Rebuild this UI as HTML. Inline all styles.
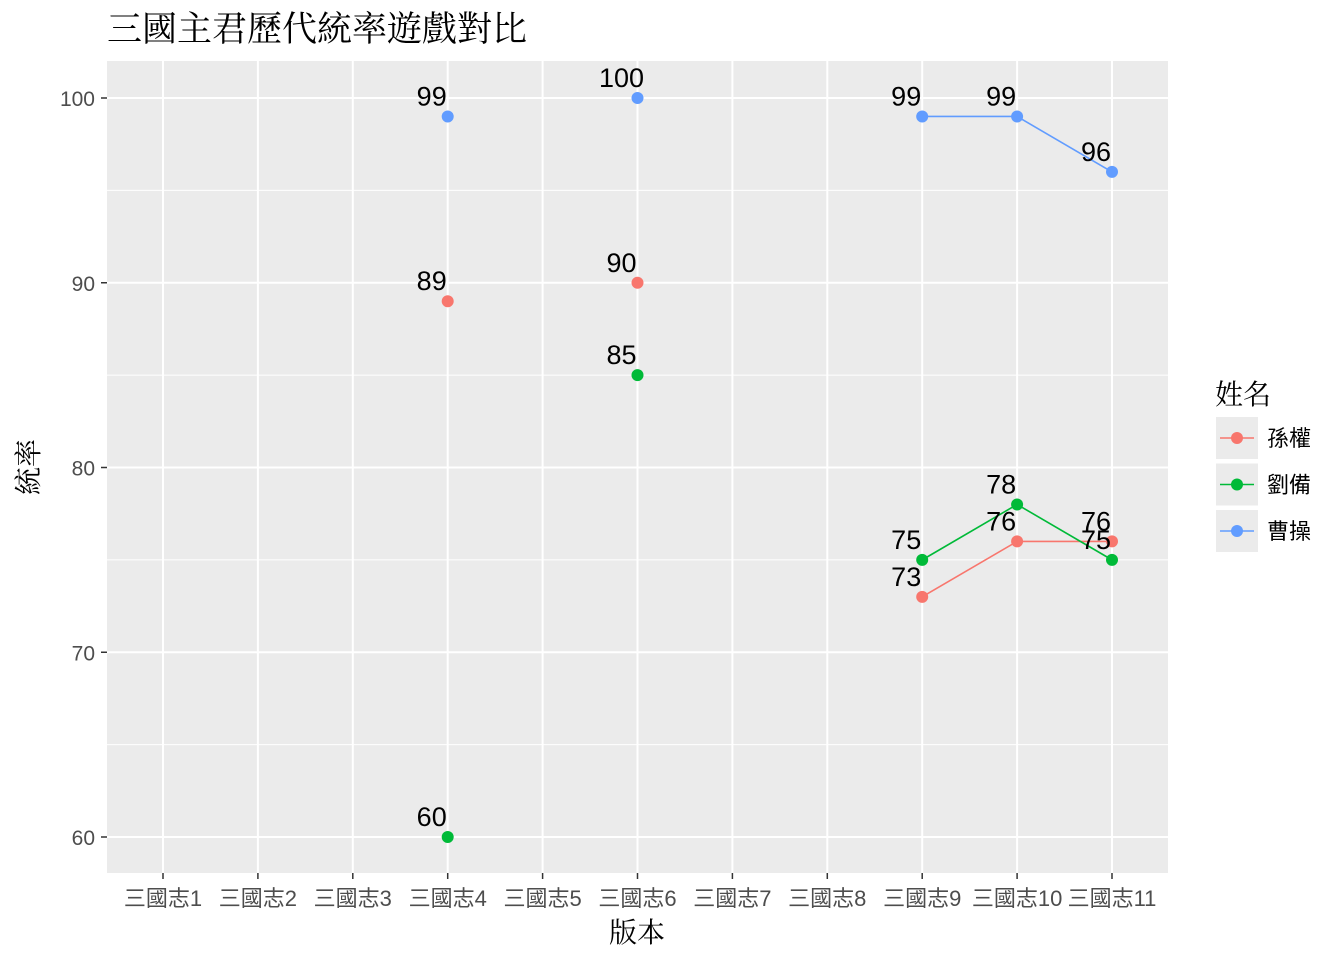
<!DOCTYPE html>
<html><head><meta charset="utf-8">
<style>
html,body{margin:0;padding:0;background:#fff;}
svg text{font-family:"Liberation Sans","Noto Sans CJK TC",sans-serif;}
</style></head>
<body>
<svg id="chart" width="1344" height="960" xmlns="http://www.w3.org/2000/svg">
<rect x="0" y="0" width="1344" height="960" fill="#fff"/>
<text x="107" y="41" font-size="35" fill="#000" style="font-family:'Noto Serif CJK SC',serif">三國主君歷代統率遊戲對比</text>
<rect x="107" y="61" width="1061" height="812" fill="#EBEBEB"/>
<g id="grid"></g>
<g id="axes"></g>
<g id="marks"></g>
<text x="637" y="942" font-size="28" text-anchor="middle" style="font-family:'Noto Serif CJK SC',serif">版本</text>
<text transform="translate(38,467) rotate(-90)" font-size="28" text-anchor="middle" style="font-family:'Noto Serif CJK SC',serif">統率</text>
<g id="legend"></g>
</svg>
<script>
const categories=["三國志1","三國志2","三國志3","三國志4","三國志5","三國志6","三國志7","三國志8","三國志9","三國志10","三國志11"];
const seriesNames=["孫權","劉備","曹操"];
const sunQuan=[null,null,null,89,null,90,null,null,73,76,76];
const liuBei=[null,null,null,60,null,85,null,null,75,78,75];
const caoCao=[null,null,null,99,null,100,null,null,99,99,96];
const yTicks=[60,70,80,90,100];
const colors=["#F8766D","#00BA38","#619CFF"];
const NS="http://www.w3.org/2000/svg";
function xPos(i){return 163+i*94.9;}
function yPos(v){return 837-(v-60)*(837-98)/40;}
function mk(tag,attrs,parent,text){const e=document.createElementNS(NS,tag);for(const k in attrs)e.setAttribute(k,attrs[k]);if(text!==undefined)e.textContent=text;parent.appendChild(e);return e;}
const grid=document.getElementById('grid'),axes=document.getElementById('axes'),marks=document.getElementById('marks'),legend=document.getElementById('legend');
for(let i=0;i<yTicks.length-1;i++){const m=(yTicks[i]+yTicks[i+1])/2;const l=mk('line',{x1:107,x2:1168,y1:yPos(m),y2:yPos(m),stroke:'#fff','stroke-width':1},grid);

}
yTicks.forEach(v=>{const l=mk('line',{x1:107,x2:1168,y1:yPos(v),y2:yPos(v),stroke:'#fff','stroke-width':2},grid);


mk('line',{x1:101,x2:107,y1:yPos(v),y2:yPos(v),stroke:'#333','stroke-width':1.5},axes);
const t=mk('text',{x:95,y:yPos(v)+8,'font-size':21,'text-anchor':'end',fill:'#4D4D4D'},axes,String(v));

});
categories.forEach((c,i)=>{const l=mk('line',{x1:xPos(i),x2:xPos(i),y1:61,y2:873,stroke:'#fff','stroke-width':2},grid);


mk('line',{x1:xPos(i),x2:xPos(i),y1:873,y2:879,stroke:'#333','stroke-width':1.5},axes);
const t=mk('text',{x:xPos(i),y:906,'font-size':22,'text-anchor':'middle',fill:'#4D4D4D'},axes,c);

});
const allSeries=[sunQuan,liuBei,caoCao];
allSeries.forEach((s,si)=>{
 for(let i=0;i<s.length-1;i++){if(s[i]!==null&&s[i+1]!==null){const l=mk('line',{x1:xPos(i),y1:yPos(s[i]),x2:xPos(i+1),y2:yPos(s[i+1]),stroke:colors[si],'stroke-width':1.6},marks);
 
 }}
});
allSeries.forEach((s,si)=>{
 s.forEach((v,i)=>{if(v===null)return;
 const c=mk('circle',{cx:xPos(i),cy:yPos(v),r:6,fill:colors[si]},marks);
 
 });
});
allSeries.forEach((s,si)=>{
 s.forEach((v,i)=>{if(v===null)return;
 const t=mk('text',{x:xPos(i)-16,y:yPos(v)-11,'font-size':27,'text-anchor':'middle',fill:'#000'},marks,String(v));
 
 });
});
const lt=mk('text',{x:1215,y:404,'font-size':28,fill:'#000',style:"font-family:'Noto Serif CJK SC',serif"},legend,'姓名');


seriesNames.forEach((n,i)=>{const cy=438+i*46.5;
 const g=mk('g',{},legend);
 
 
 mk('rect',{x:1216,y:cy-21,width:42,height:42,fill:'#EBEBEB'},g);
 mk('line',{x1:1220,x2:1254,y1:cy,y2:cy,stroke:colors[i],'stroke-width':1.6},g);
 mk('circle',{cx:1237,cy:cy,r:6,fill:colors[i]},g);
 mk('text',{x:1267,y:cy+8,'font-size':22,fill:'#000'},g,n);
});
</script>
</body></html>
